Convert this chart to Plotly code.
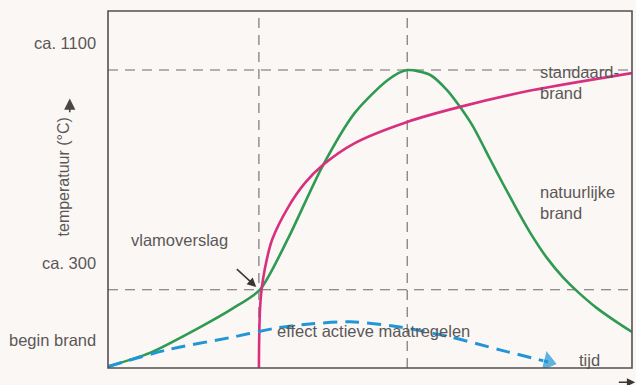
import plotly.graph_objects as go

# --- data (time in arbitrary minutes, temperature in °C) ---
natural_t = [0, 8.0, 17.6, 23.9, 29.0, 34.4, 40.8, 47.1, 53.4, 57.1, 61.5, 64.7, 67.2, 69.7, 72.9,
             75.4, 78.1, 80.5, 83.8, 86.8, 89.5, 93.3, 97.1, 100]
natural_T = [20, 70, 164, 233, 300, 488, 745, 944, 1064, 1100, 1082, 1027, 965, 893, 776,
             685, 590, 510, 415, 346, 295, 233, 182, 146]

standard_t = [28.8, 28.85, 29.0, 29.3, 30.0, 31.3, 34.4, 37.6, 41.0, 47.1, 57.1, 67.0, 81.1, 100]
standard_T = [15, 117, 226, 299, 383, 481, 601, 689, 754, 834, 911, 965, 1027, 1089]

active_t = [0, 11.3, 23.9, 32.3, 39.0, 46.2, 55.7, 65.3, 74.8, 84.0]
active_T = [20, 81, 128, 161, 176, 183, 164, 128, 81, 37]

t_flashover = 28.8
t_peak = 57.1
T_flashover = 300
T_peak = 1100
T_begin = 117

ref_labels = ["ca. 1100", "ca. 300", "begin brand"]
ref_values = [T_peak, T_flashover, T_begin]

TEXT = "#5b5757"
FONT = "Liberation Sans, Arial, sans-serif"
FS = 16.5

fig = go.Figure()

fig.add_trace(go.Scatter(x=natural_t, y=natural_T, mode="lines", line=dict(color="#2e9a52", width=2.6, shape="spline", smoothing=0.7), hoverinfo="skip"))
fig.add_trace(go.Scatter(x=standard_t, y=standard_T, mode="lines", line=dict(color="#d8307f", width=2.6, shape="spline", smoothing=0.8), hoverinfo="skip"))
fig.add_trace(go.Scatter(x=active_t, y=active_T, mode="lines+markers",
                         line=dict(color="#2196d6", width=3, dash="14px,8px", shape="spline", smoothing=0.9),
                         marker=dict(symbol="triangle-up", angleref="previous", color="#2196d6",
                                     size=[0]*(len(active_t)-1) + [19]),
                         hoverinfo="skip"))

shapes = []
grey_dash = dict(color="#6e6a6a", width=1.1, dash="10px,7px")
for tv in [t_flashover, t_peak]:
    shapes.append(dict(type="line", xref="x", yref="paper", x0=tv, x1=tv, y0=0, y1=1, line=grey_dash, layer="below"))
for Tv in [T_flashover, T_peak]:
    shapes.append(dict(type="line", xref="paper", yref="y", x0=0, x1=1, y0=Tv, y1=Tv, line=grey_dash, layer="below"))
# frame
shapes.append(dict(type="rect", xref="paper", yref="paper", x0=0, x1=1, y0=0, y1=1,
                   line=dict(color="#545050", width=1.6), layer="above"))

annotations = []
for lab, v, shift in zip(ref_labels, ref_values, [27, 27, 0]):
    annotations.append(dict(x=0, xref="paper", y=v, yref="y", yshift=shift, xshift=-10, text=lab,
                            showarrow=False, xanchor="right", yanchor="middle",
                            font=dict(size=FS, color=TEXT, family=FONT)))

def label(x, y, text, xanchor="left"):
    annotations.append(dict(x=x, y=y, xref="x", yref="y", text=text, showarrow=False,
                            xanchor=xanchor, yanchor="middle", align="left",
                            font=dict(size=FS, color=TEXT, family=FONT)))

label(82.0, 1053, "standaard-<br>brand")
label(82.0, 619, "natuurlijke<br>brand")
label(4.0, 481, "vlamoverslag")
label(31.8, 150, "effect actieve maatregelen")
label(89.5, 44, "tijd")

# pointer arrow to flashover
annotations.append(dict(x=t_flashover - 0.5, y=T_flashover + 10, xref="x", yref="y",
                        ax=24.3, ay=380, axref="x", ayref="y", text="", showarrow=True,
                        arrowhead=2, arrowsize=1.2, arrowwidth=1.5, arrowcolor="#3a3636"))

# y axis title with arrow
annotations.append(dict(x=-0.085, xref="paper", y=0.535, yref="paper", text="temperatuur (°C)",
                        textangle=-90, showarrow=False, xanchor="center", yanchor="middle",
                        font=dict(size=16, color=TEXT, family=FONT)))
annotations.append(dict(x=-0.073, y=0.755, xref="x domain", yref="y domain", ax=-0.073, ay=0.712,
                        axref="x domain", ayref="y domain", text="", showarrow=True,
                        arrowhead=2, arrowsize=1.4, arrowwidth=1.6, arrowcolor="#4a4646"))
# x axis arrow (bottom right)
annotations.append(dict(x=1.006, y=-0.04, xref="x domain", yref="y domain", ax=0.972, ay=-0.04,
                        axref="x domain", ayref="y domain", text="", showarrow=True,
                        arrowhead=2, arrowsize=1.1, arrowwidth=1.5, arrowcolor="#3a3636"))

fig.update_layout(
    width=636, height=385,
    margin=dict(l=108, r=4, t=11, b=17),
    paper_bgcolor="#fbf7f5", plot_bgcolor="#fbf7f5",
    showlegend=False,
    xaxis=dict(range=[0, 100], showgrid=False, zeroline=False, showticklabels=False, ticks=""),
    yaxis=dict(range=[15, 1315], showgrid=False, zeroline=False, showticklabels=False, ticks=""),
    shapes=shapes, annotations=annotations,
)

fig.write_html("out.html", config={"displayModeBar": False},
               post_script="document.body.style.margin='0';document.body.style.overflow='hidden';document.body.style.background='#fbf7f5';")
